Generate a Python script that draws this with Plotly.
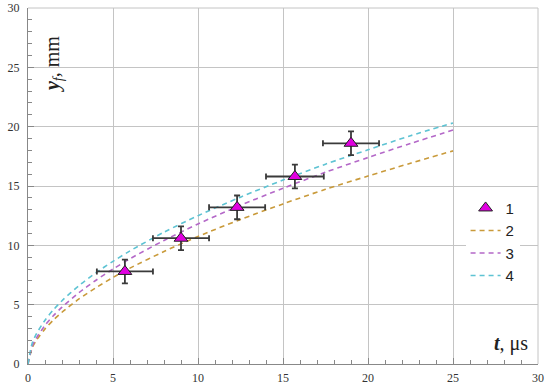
import plotly.graph_objects as go

# Experimental points (series 1)
t_exp = [5.7, 9.0, 12.3, 15.7, 19.0]
y_exp = [7.8, 10.6, 13.2, 15.8, 18.6]
t_err = [1.65, 1.65, 1.65, 1.7, 1.65]
y_err = [1.0, 1.0, 1.0, 1.0, 1.0]

# Model curves (series 2, 3, 4)
t_model = [0, 0.25, 0.5, 1, 1.5, 2, 3, 4, 5, 6, 8, 10, 12.5, 15, 17.5, 20, 22.5, 25]
y_model2 = [0, 1.36, 2.01, 2.96, 3.71, 4.36, 5.48, 6.43, 7.29, 8.08, 9.48, 10.75, 12.18, 13.49, 14.72, 15.84, 16.92, 17.96]
y_model3 = [0, 1.50, 2.20, 3.25, 4.08, 4.79, 6.01, 7.06, 8.00, 8.87, 10.41, 11.80, 13.37, 14.81, 16.16, 17.40, 18.58, 19.72]
y_model4 = [0, 1.77, 2.55, 3.69, 4.58, 5.33, 6.61, 7.69, 8.65, 9.53, 11.11, 12.50, 14.06, 15.50, 16.84, 18.05, 19.24, 20.31]

x_ticks = [0, 5, 10, 15, 20, 25, 30]
y_ticks = [0, 5, 10, 15, 20, 25, 30]

fig = go.Figure()

models = [("2", y_model2, "#c99a3a", 2), ("3", y_model3, "#b468c8", 3), ("4", y_model4, "#5ec3d3", 4)]
for name, ys, col, rank in models:
    fig.add_trace(go.Scatter(
        x=t_model, y=ys, mode="lines", name=name, legendrank=rank,
        line=dict(color=col, width=1.6, dash="5px,4px", shape="spline", smoothing=0.8),
    ))

fig.add_trace(go.Scatter(
    x=t_exp, y=y_exp, mode="markers", name="1", legendrank=1,
    marker=dict(symbol="triangle-up", size=12, color="#e000e0",
                line=dict(color="#222222", width=1)),
    error_x=dict(type="data", array=t_err, color="#3a3a3a", thickness=1.8, width=3),
    error_y=dict(type="data", array=y_err, color="#3a3a3a", thickness=1.8, width=3),
))

axis_common = dict(
    range=[0, 30], tickvals=x_ticks, ticks="inside", ticklen=6, tickwidth=1,
    tickcolor="#888888", showline=True, linecolor="#888888", linewidth=1,
    showgrid=True, gridcolor="#c4c4c4", gridwidth=1, zeroline=False,
    minor=dict(dtick=1, ticks="inside", ticklen=4, tickcolor="#888888", showgrid=False),
    tickfont=dict(family="Liberation Serif", size=12, color="#333333"),
    fixedrange=True, automargin=False,
)

fig.update_xaxes(**axis_common, ticklabelstandoff=3)
fig.update_yaxes(**{**axis_common, "tickvals": y_ticks}, ticklabelstandoff=5)

fig.update_layout(
    width=550, height=388,
    margin=dict(l=28, r=12, t=8, b=24, autoexpand=False),
    plot_bgcolor="white", paper_bgcolor="white",
    showlegend=True,
    legend=dict(x=0.858, y=0.484, xanchor="left", yanchor="top",
                bgcolor="white", borderwidth=0,
                font=dict(family="Liberation Sans", size=15, color="#222222"),
                itemwidth=30, tracegroupgap=0),
    shapes=[
        dict(type="line", xref="paper", yref="paper", x0=0, x1=1, y0=1, y1=1,
             line=dict(color="#c4c4c4", width=1)),
        dict(type="line", xref="paper", yref="paper", x0=1, x1=1, y0=0, y1=1,
             line=dict(color="#c4c4c4", width=1)),
    ],
    annotations=[
        dict(text="<b><i>y</i></b><sub><i>f</i></sub>, mm", textangle=-90,
             xref="paper", yref="paper", x=(53 - 28) / 510, y=(363.5 - 64) / 355.5,
             xanchor="center", yanchor="middle", showarrow=False,
             font=dict(family="Liberation Serif", size=20, color="#222222")),
        dict(text="<b><i>t</i></b>, μs",
             xref="paper", yref="paper", x=(511 - 28) / 510, y=(363.5 - 343) / 355.5,
             xanchor="center", yanchor="middle", showarrow=False,
             font=dict(family="Liberation Serif", size=20, color="#222222")),
    ],
)

fig.write_html("out.html", config={"displayModeBar": False, "staticPlot": True},
               post_script="document.body.style.margin='0';document.body.style.overflow='hidden';")
